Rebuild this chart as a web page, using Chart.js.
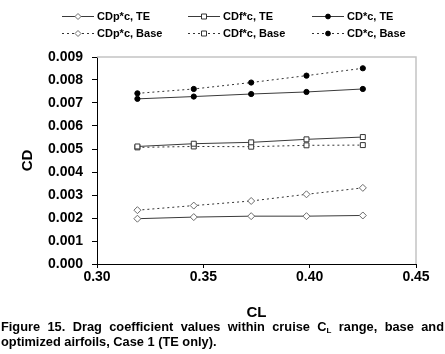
<!DOCTYPE html>
<html>
<head>
<meta charset="utf-8">
<script src="https://cdn.jsdelivr.net/npm/chart.js@4.4.0/dist/chart.umd.min.js"></script>
<style>
  body { margin: 0; background: #fff; width: 445px; height: 354px; overflow: hidden;
         font-family: "Liberation Sans", Arial, sans-serif; }
  #wrap { position: relative; width: 445px; height: 326px; }
  #caption { position: absolute; left: 1px; top: 321px; width: 443px; font-weight: bold;
             font-size: 12.8px; line-height: 11px; color: #000; }
  #caption .l1 { text-align: justify; text-align-last: justify; }
</style>
</head>
<body>
<div id="wrap"><canvas id="chart" width="445" height="326"></canvas></div>
<div id="caption">
  <div class="l1">Figure 15. Drag coefficient values within cruise C<sub style="font-size:8px;vertical-align:-2px;">L</sub> range, base and</div>
  <div>optimized airfoils, Case 1 (TE only).</div>
</div>
<script>
// CL values (x)
const clValues = [0.319, 0.3455, 0.3725, 0.3985, 0.425];

// series values
const cdpTE   = [0.00197, 0.00204, 0.00208, 0.00208, 0.00211];
const cdfTE   = [0.00511, 0.00523, 0.00529, 0.00542, 0.00552];
const cdTE    = [0.00718, 0.00728, 0.00739, 0.00748, 0.00761];
const cdpBase = [0.00234, 0.00254, 0.00274, 0.00303, 0.00331];
const cdfBase = [0.00507, 0.00511, 0.00510, 0.00516, 0.00517];
const cdBase  = [0.00742, 0.00761, 0.00789, 0.00819, 0.00851];

const seriesLabels = ['CDp*c, TE', 'CDf*c, TE', 'CD*c, TE', 'CDp*c, Base', 'CDf*c, Base', 'CD*c, Base'];

const toPoints = (arr) => arr.map((y, i) => ({ x: clValues[i], y: y }));

const FONT = '"Liberation Sans", Arial, sans-serif';

function makeSet(label, data, style, dashed) {
  const s = {
    rectRot: { pointRadius: 3.5, pointBackgroundColor: '#fff', pointBorderColor: '#6a6a6a' },
    rect:    { pointRadius: 3.5, pointBackgroundColor: '#fff', pointBorderColor: '#333' },
    circle:  { pointRadius: 2.6, pointBackgroundColor: '#000', pointBorderColor: '#000' }
  }[style];
  return Object.assign({
    label: label,
    data: toPoints(data),
    borderColor: dashed ? '#333' : '#3a3a3a',
    borderWidth: 1,
    borderDash: dashed ? [2, 3] : [],
    pointStyle: style,
    pointBorderWidth: 1,
    pointHoverRadius: 3,
    fill: false,
    tension: 0
  }, s);
}

// legend drawn inside the canvas, two rows of three
const legendPlugin = {
  id: 'figLegend',
  afterDraw(chart) {
    const ctx = chart.ctx;
    const cols = [62, 188, 312];
    const rows = [16, 33];
    chart.data.datasets.forEach((ds, i) => {
      const x0 = cols[i % 3];
      const y = rows[Math.floor(i / 3)];
      ctx.save();
      ctx.strokeStyle = ds.borderColor;
      ctx.lineWidth = 1;
      ctx.setLineDash(ds.borderDash);
      ctx.beginPath();
      ctx.moveTo(x0, y + 0.5);
      ctx.lineTo(x0 + 32, y + 0.5);
      ctx.stroke();
      ctx.setLineDash([]);
      const cx = x0 + 16;
      ctx.fillStyle = ds.pointBackgroundColor;
      ctx.strokeStyle = ds.pointBorderColor;
      ctx.beginPath();
      if (ds.pointStyle === 'rectRot') {
        const r = 3;
        ctx.moveTo(cx, y + 0.5 - r); ctx.lineTo(cx + r, y + 0.5);
        ctx.lineTo(cx, y + 0.5 + r); ctx.lineTo(cx - r, y + 0.5); ctx.closePath();
      } else if (ds.pointStyle === 'rect') {
        ctx.rect(cx - 2.5, y - 2, 5, 5);
      } else {
        ctx.arc(cx, y + 0.5, 2.4, 0, Math.PI * 2);
      }
      ctx.fill();
      ctx.stroke();
      ctx.fillStyle = '#000';
      ctx.font = 'bold 11px ' + FONT;
      ctx.textBaseline = 'middle';
      ctx.fillText(ds.label, x0 + 35, y + 1);
      ctx.restore();
    });
  }
};

// light grey top and right frame of the plot area
const framePlugin = {
  id: 'frame',
  afterDatasetsDraw(chart) {
    const { ctx, chartArea: a } = chart;
    ctx.save();
    ctx.strokeStyle = '#c4c4c4';
    ctx.lineWidth = 1.5;
    ctx.beginPath();
    ctx.moveTo(a.left, a.top);
    ctx.lineTo(a.right, a.top);
    ctx.lineTo(a.right, a.bottom);
    ctx.stroke();
    ctx.restore();
  }
};

const CANVAS_H = 326;

new Chart(document.getElementById('chart'), {
  type: 'line',
  data: {
    datasets: [
      makeSet(seriesLabels[0], cdpTE, 'rectRot', false),
      makeSet(seriesLabels[1], cdfTE, 'rect', false),
      makeSet(seriesLabels[2], cdTE, 'circle', false),
      makeSet(seriesLabels[3], cdpBase, 'rectRot', true),
      makeSet(seriesLabels[4], cdfBase, 'rect', true),
      makeSet(seriesLabels[5], cdBase, 'circle', true)
    ]
  },
  options: {
    responsive: false,
    animation: false,
    devicePixelRatio: 1,
    layout: { padding: { top: 57, right: 29, left: 0, bottom: 0 } },
    plugins: {
      legend: { display: false },
      tooltip: { enabled: false }
    },
    scales: {
      x: {
        type: 'linear',
        min: 0.30,
        max: 0.45,
        afterFit: (scale) => { scale.height = CANVAS_H - 264; },
        ticks: {
          stepSize: 0.05,
          padding: 1,
          color: '#000',
          font: { family: FONT, size: 14, weight: 'bold' },
          callback: (v) => v.toFixed(2)
        },
        grid: { display: true, drawOnChartArea: false, drawTicks: true, tickLength: 4, color: '#000' },
        border: { display: true, color: '#000', width: 1 },
        title: {
          display: true,
          text: 'CL',
          color: '#000',
          font: { family: FONT, size: 15, weight: 'bold' },
          padding: { top: 0, bottom: 4 }
        }
      },
      y: {
        min: 0,
        max: 0.009,
        afterFit: (scale) => { scale.width = 97; },
        ticks: {
          stepSize: 0.001,
          padding: 9,
          color: '#000',
          font: { family: FONT, size: 14, weight: 'bold' },
          callback: (v) => v.toFixed(3)
        },
        grid: { display: true, drawOnChartArea: false, drawTicks: true, tickLength: 5, color: '#000' },
        border: { display: true, color: '#000', width: 1 },
        title: {
          display: true,
          text: 'CD',
          color: '#000',
          font: { family: FONT, size: 15, weight: 'bold' },
          padding: { top: 19, bottom: 0 }
        }
      }
    }
  },
  plugins: [legendPlugin, framePlugin]
});
</script>
</body>
</html>
